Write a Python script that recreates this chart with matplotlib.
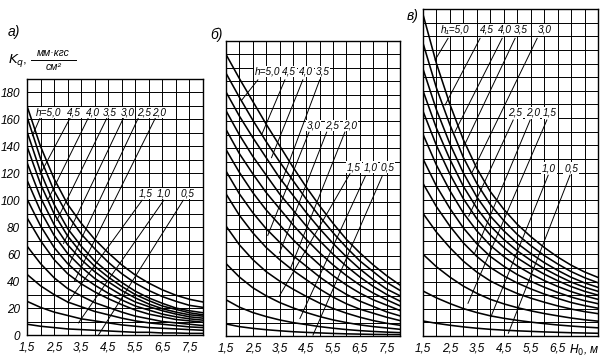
"""Nomogram K_q vs H_0 for three cases (a, б, в)."""

import matplotlib

matplotlib.use("Agg")
import matplotlib.pyplot as plt
from matplotlib.lines import Line2D

plt.rcParams["font.family"] = ["Liberation Sans", "DejaVu Sans"]
plt.rcParams["mathtext.fontset"] = "dejavusans"

# --- data ----------------------------------------------------------------
H0 = [1.5, 2.0, 2.5, 3.0, 3.5, 4.0, 4.5, 5.0, 5.5, 6.0, 6.5, 7.0, 7.5, 8.0]

KQ_A = [
    [170, 140, 116, 97, 83, 71, 61, 52, 44.5, 38.5, 33.5, 29.5, 26.5, 24.5],
    [162, 131, 107, 89, 75, 64, 54, 45.5, 38.5, 33, 28.5, 25, 22, 20.5],
    [151, 121, 97, 79, 66, 55, 46.5, 39, 32.5, 27.5, 23.5, 20, 18, 16.5],
    [140, 112, 90, 73.5, 61, 51, 43, 36, 30, 25.5, 21.5, 19, 16.5, 15],
    [128, 102, 82, 67, 56, 47, 39.5, 33, 27.5, 23, 19.5, 17, 15, 14],
    [115, 92, 74, 60.5, 50.5, 42, 35.5, 29.5, 24.5, 21, 18, 15.5, 13.5, 12.5],
    [101, 81, 65, 53, 44, 37, 31, 26, 21.5, 18.5, 15.5, 13.5, 12, 11],
    [87, 70, 56, 45.5, 38, 32, 27, 22.5, 18.5, 15.5, 13.5, 11.5, 10.5, 9.5],
    [66, 53, 42.5, 34.5, 29, 24, 20.5, 17, 14, 12, 10, 9, 8, 7],
    [45, 36.5, 30, 24.5, 21, 17.5, 15, 12.5, 10.5, 9, 8, 7, 6, 5.5],
    [25, 20.5, 17, 14.5, 12, 10.5, 9, 7.5, 6.5, 5.5, 5, 4.5, 4, 3.5],
    [8, 6.5, 5.5, 4.5, 4, 3.5, 3, 2.5, 2, 2, 1.5, 1.5, 1.2, 1.2],
]

KQ_B = [
    [210, 192, 175, 158, 142, 126, 111, 97, 84, 72, 62, 53, 45, 38],
    [196, 178, 161, 145, 130, 116, 102, 89, 77, 66, 56, 48, 40, 34],
    [182, 164, 148, 133, 118, 105, 92, 80, 69, 59, 50, 42, 35, 30],
    [168, 150, 134, 120, 106, 94, 82, 71, 61, 52, 44, 37, 31, 26],
    [154, 136, 121, 107, 95, 83, 72, 62, 53, 45, 38, 32, 27, 22.5],
    [139, 122, 107, 94, 83, 72, 62, 53, 45, 38, 32, 27, 23, 19],
    [123, 106, 92, 80, 70, 60, 52, 44, 37, 31, 26, 22, 18, 15],
    [106, 90, 77, 66, 57, 49, 42, 35, 29, 24, 20, 17, 14, 11.5],
    [82, 68, 57, 48, 41, 35, 29.5, 24.5, 20.5, 17, 14, 11.5, 9.5, 8],
    [54, 44, 36, 30, 25, 21, 17.5, 14.5, 12, 10, 8.3, 7, 6, 5],
    [27, 21.5, 17.5, 14.5, 12, 10, 8.5, 7, 5.8, 4.8, 4, 3.4, 2.9, 2.5],
    [9, 7, 5.7, 4.7, 3.9, 3.2, 2.7, 2.3, 1.9, 1.6, 1.4, 1.2, 1.1, 1.0],
]

KQ_V = [
    [236, 200, 170, 144, 123, 106, 93, 82, 73, 65, 58, 52, 47, 43],
    [215, 182, 155, 131, 112, 96.5, 84.7, 74.6, 66.4, 59.1, 52.9, 47.3, 42.8, 39.1],
    [196, 166, 141, 119.6, 102, 88, 77.2, 68, 60.6, 53.9, 48.2, 43.1, 39, 35.7],
    [180, 152.5, 129.6, 109.8, 93.8, 80.8, 70.9, 62.5, 55.6, 49.5, 44.3, 39.6, 35.8, 32.8],
    [165, 139.8, 118.8, 100.7, 86, 74.1, 65, 57.3, 51, 45.4, 40.6, 36.3, 32.8, 30],
    [148, 125.4, 106.6, 90.3, 77.1, 66.5, 58.3, 51.4, 45.7, 40.7, 36.4, 32.6, 29.5, 26.9],
    [130, 110, 93.6, 79.3, 67.7, 58.4, 51.2, 45.1, 40.2, 35.8, 32, 28.6, 25.9, 23.7],
    [112, 94.9, 80.6, 68.3, 58.4, 50.3, 44.1, 38.9, 34.6, 30.8, 27.6, 24.6, 22.3, 20.4],
    [90, 76.2, 64.8, 54.9, 46.9, 40.4, 35.5, 31.2, 27.8, 24.8, 22.1, 19.8, 17.9, 16.4],
    [60, 50.8, 43.2, 36.6, 31.3, 26.9, 23.6, 20.8, 18.5, 16.5, 14.8, 13.2, 11.9, 10.9],
    [33, 28, 23.8, 20.1, 17.2, 14.8, 13, 11.5, 10.2, 9.1, 8.1, 7.3, 6.6, 6],
    [11, 9.3, 7.9, 6.7, 5.7, 4.9, 4.3, 3.8, 3.4, 3, 2.7, 2.4, 2.2, 2],
]

# h lines: (H0 low, Kq low, H0 high, Kq high)
H_VALUES = ["5,0", "4,5", "4,0", "3,5", "3,0", "2,5", "2,0", "1,5", "1,0", "0,5"]

H_LINES_A = [
    (1.70, 148, 1.98, 161), (1.98, 119, 3.09, 161), (2.29, 101, 3.76, 161),
    (2.60, 85, 4.45, 161), (2.85, 68, 5.06, 161), (3.05, 52, 5.61, 161),
    (3.25, 40, 6.24, 161), (3.00, 24, 5.75, 100), (3.40, 9, 6.55, 100),
    (4.14, 0, 7.27, 100),
]
H_LINES_B = [
    (2.09, 176, 2.69, 191), (2.83, 150, 3.70, 191), (3.20, 133, 4.37, 191),
    (3.58, 115, 5.00, 191), (3.06, 75, 4.60, 152), (3.50, 62, 5.26, 152),
    (3.90, 50, 5.94, 152), (3.50, 30, 6.13, 121), (4.26, 13, 6.70, 119),
    (4.75, 0.7, 7.33, 119),
]
H_LINES_V = [
    (1.95, 202.6, 2.43, 218.5), (2.32, 169.5, 3.62, 218.5), (2.69, 150, 4.44, 218.5),
    (2.99, 138, 4.92, 218.5), (3.32, 120, 5.74, 218.5), (3.20, 88, 4.85, 158.5),
    (3.40, 60, 5.48, 158.5), (3.17, 24, 6.10, 158.5), (4.00, 13, 6.15, 118),
    (4.67, 2, 6.96, 118),
]

X_TICKS = [1.5, 2.5, 3.5, 4.5, 5.5, 6.5, 7.5]
X_GRID = [1.5, 2.0, 2.5, 3.0, 3.5, 4.0, 4.5, 5.0, 5.5, 6.0, 6.5, 7.0, 7.5, 8.0]
X_LABELS = ["1,5", "2,5", "3,5", "4,5", "5,5", "6,5", "7,5"]
X_LABELS_V = ["1,5", "2,5", "3,5", "4,5", "5,5", "6,5", "$H_0$, м"]
Y_TICKS_A = [0, 20, 40, 60, 80, 100, 120, 140, 160, 180]

# --- layout ----------------------------------------------------------------
LABEL_POS_A = [(2.28, 165), (3.24, 165), (3.93, 165), (4.57, 165), (5.22, 165),
               (5.81, 165), (6.37, 165), (5.87, 105), (6.54, 105), (7.44, 105)]
LABEL_POS_B = [(3.05, 197), (3.85, 197), (4.49, 197), (5.10, 197), (4.78, 157),
               (5.47, 157), (6.15, 157), (6.28, 126), (6.91, 126), (7.53, 126)]
LABEL_POS_V = [(2.71, 224.6), (3.88, 224.6), (4.56, 224.6), (5.12, 224.6), (6.04, 224.6),
               (4.92, 163.7), (5.57, 163.7), (6.22, 163.7), (6.18, 123.3), (7.00, 123.3)]

W, H = 604, 360


def _rect(left, top, right, bottom):
    return [left / W, 1 - bottom / H, (right - left) / W, (bottom - top) / H]


def draw_panel(ax, curves, lines, label_pos, first_label, ymax, xlabels, show_y):
    ax.set_xlim(1.5, 8.0)
    ax.set_ylim(0, ymax)
    ax.set_xticks(X_TICKS)
    ax.set_xticks(X_GRID, minor=True)
    ax.set_xticklabels(xlabels, fontsize=8.5, style="italic")
    ax.set_yticks(list(range(0, ymax + 1, 10)), minor=True)
    if show_y:
        ax.set_yticks(Y_TICKS_A)
        ax.set_yticklabels([str(v) for v in Y_TICKS_A], fontsize=8.5, style="italic")
    else:
        ax.set_yticks([])
    ax.tick_params(which="both", length=0, pad=5)
    ax.grid(which="both", color="black", lw=0.7)
    ax.set_axisbelow(True)
    for sp in ax.spines.values():
        sp.set_linewidth(1.0)

    for kq in curves:
        ax.plot(H0, kq, color="black", lw=1.15, zorder=3)

    for x0, y0, x1, y1 in lines:
        ax.plot([x0, x1], [y0, y1], color="black", lw=0.7, zorder=3)

    for i, (txt, (x, y)) in enumerate(zip(H_VALUES, label_pos)):
        if i == 0:
            txt = first_label + txt
        ax.text(x, y, txt, fontsize=7.2, style="italic", ha="center", va="center",
                zorder=4, bbox=dict(facecolor="white", edgecolor="none", pad=0.4))


fig = plt.figure(figsize=(6.04, 3.6), dpi=100)

ax_a = fig.add_axes(_rect(27, 79, 203, 335))
ax_b = fig.add_axes(_rect(226, 41, 400, 336))
ax_v = fig.add_axes(_rect(423, 9, 598, 336))

draw_panel(ax_a, KQ_A, H_LINES_A, LABEL_POS_A, "h=", 190, X_LABELS, True)
draw_panel(ax_b, KQ_B, H_LINES_B, LABEL_POS_B, "h=", 220, X_LABELS, False)
draw_panel(ax_v, KQ_V, H_LINES_V, LABEL_POS_V, "h₁=", 240, X_LABELS_V, False)

# panel letters
fig.text(14 / W, 1 - 32 / H, "а)", fontsize=10, style="italic", ha="center", va="center")
fig.text(216 / W, 1 - 35 / H, "б)", fontsize=10, style="italic", ha="center", va="center")
fig.text(413 / W, 1 - 16 / H, "в)", fontsize=10, style="italic", ha="center", va="center")

# axis title K_q, мм·кгс / см²
fig.text(18 / W, 1 - 61 / H, r"$K_q$,", fontsize=9.5, ha="center", va="center")
fig.text(53 / W, 1 - 53 / H, "мм·кгс", fontsize=7.5, style="italic", ha="center", va="center")
fig.add_artist(Line2D([31 / W, 76 / W], [1 - 59.5 / H, 1 - 59.5 / H], color="black", lw=0.7))
fig.text(54 / W, 1 - 66.5 / H, "см²", fontsize=7.5, style="italic", ha="center", va="center")

fig.savefig("out.png", dpi=100)
